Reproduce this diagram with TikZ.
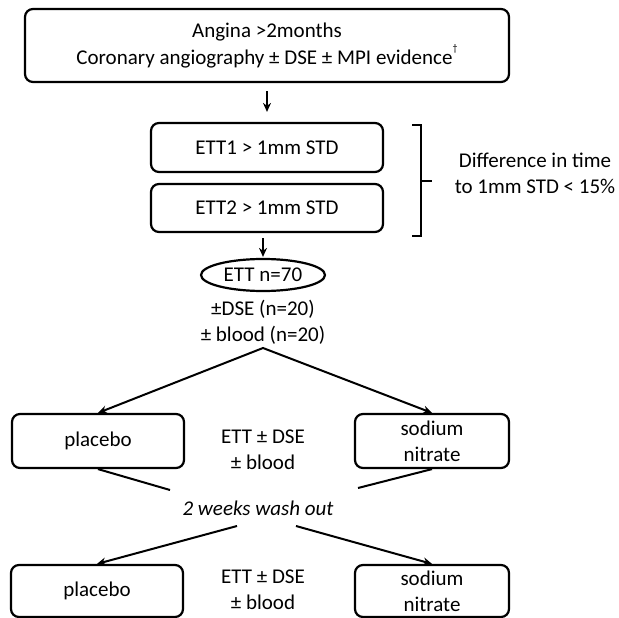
\documentclass[tikz,border=0pt]{standalone}
\usepackage{fontspec}
\setmainfont{Carlito}
\usetikzlibrary{positioning,shapes.geometric,arrows.meta}

\begin{document}
\begin{tikzpicture}[x=1pt,y=-1pt,
  font=\fontsize{21}{26}\selectfont,
  box/.style={draw,line width=2.2pt,rounded corners=8pt,align=center,inner sep=0pt},
  arr/.style={-{Stealth[length=9pt,width=8pt]},line width=2pt},
  link/.style={line width=2pt}]
\useasboundingbox (0,0) rectangle (619,618);
\node[box,minimum width=484pt,minimum height=73pt] (angina) at (267,45.5) {Angina >2months\\[1pt]Coronary angiography ± DSE ± MPI evidence\raisebox{1.3ex}{\fontsize{10}{10}\selectfont\textdagger}};
\node[box,minimum width=232pt,minimum height=49pt] (ett1) at (267,147.5) {ETT1 > 1mm STD};
\node[box,minimum width=232pt,minimum height=48pt] (ett2) at (267,208) {ETT2 > 1mm STD};
\node[draw,ellipse,line width=2.2pt,minimum width=124pt,minimum height=32pt,inner sep=0pt] (ett) at (263,275) {ETT n=70};
\node[align=center] (extra) at (263,322.5) {±DSE (n=20)\\± blood (n=20)};
\node[align=center] (diff) at (535,173) {Difference in time\\to 1mm STD < 15\%};
\node[box,minimum width=172pt,minimum height=54pt] (placebo1) at (98,441) {placebo};
\node[box,minimum width=154pt,minimum height=54pt] (sodium1) at (432,441) {sodium\\nitrate};
\node[align=center] (test1) at (263,450) {ETT ± DSE\\± blood};
\node[font=\fontsize{21}{26}\selectfont\itshape] (wash) at (258,508) {2 weeks wash out};
\node[box,minimum width=172pt,minimum height=52pt] (placebo2) at (97,591) {placebo};
\node[box,minimum width=154pt,minimum height=52pt] (sodium2) at (432,591) {sodium\\nitrate};
\node[align=center] (test2) at (263,590) {ETT ± DSE\\± blood};
\coordinate (split) at (263,348);
\coordinate (inL) at (170,490);
\coordinate (inR) at (358,488);
\coordinate (outL) at (237,526);
\coordinate (outR) at (296,526);
\draw[arr,shorten <=8pt,shorten >=10pt] (angina) -- (ett1);
\draw[arr,shorten <=5pt,shorten >=1pt] (ett2.south -| ett.north) -- (ett.north);
\draw[link,{Stealth[length=9pt,width=8pt]}-{Stealth[length=9pt,width=8pt]}] (placebo1.north) -- (split) -- (sodium1.north);
\draw[link] (placebo1.south) -- (inL);
\draw[link] (sodium1.south) -- (inR);
\draw[arr] (outL) -- (placebo2.north);
\draw[arr] (outR) -- (sodium2.north);
\draw[line width=1.5pt] (412,125) -- (421,125) -- (421,236) -- (412,236) (421,181) -- (432,181);
\end{tikzpicture}
\end{document}
